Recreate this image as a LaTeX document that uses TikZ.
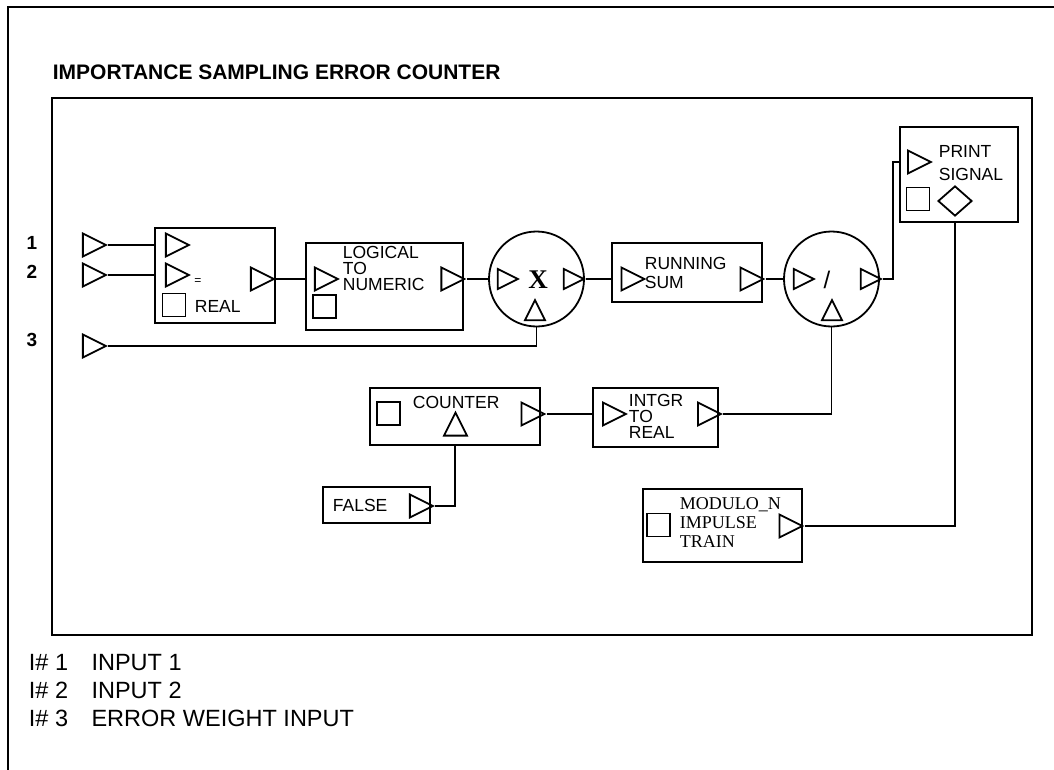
\documentclass[tikz,border=0pt]{standalone}
\usepackage{fontspec}
\setmainfont{Liberation Sans}
\newfontfamily\modserif{Liberation Serif}
\usetikzlibrary{shapes.geometric}
\newcommand{\blkfont}{\fontsize{17.5}{16}\selectfont}
\newcommand{\titlefont}{\fontsize{21}{21}\selectfont\bfseries}
\newcommand{\numfont}{\fontsize{19}{19}\selectfont\bfseries}
\newcommand{\legfont}{\fontsize{23.5}{23.5}\selectfont}
\newcommand{\modfont}{\modserif\fontsize{18}{19}\selectfont}
\newcommand{\opfont}{\modserif\fontsize{27}{27}\selectfont\bfseries}

\begin{document}
\begin{tikzpicture}[x=1pt, y=-1pt, line width=1.8pt,
    blk/.style={draw, rectangle, inner sep=0pt},
    port/.style={draw, isosceles triangle, isosceles triangle stretches,
      minimum width=23pt, minimum height=23pt, inner sep=0pt},
    uport/.style={port, shape border rotate=90},
    sport/.style={port, minimum width=20pt, minimum height=20pt},
    sq/.style={draw, rectangle, minimum size=23pt, inner sep=0pt},
    op/.style={draw, circle, minimum size=95pt, inner sep=0pt},
    lbl/.style={anchor=west, inner sep=0pt, align=left, font=\blkfont}]
  \useasboundingbox (0,0) rectangle (1054,770);

  % page frame and title
  \draw (8,770) -- (8,7) -- (1054,7);
  \node[anchor=west, inner sep=0pt, font=\titlefont] (title) at (52,72)
    {IMPORTANCE SAMPLING ERROR COUNTER};
  \node[blk, minimum width=980pt, minimum height=537pt] (frame) at (542,366.5) {};

  % inputs
  \node[font=\numfont] (n1) at (32,243) {1};
  \node[font=\numfont] (n2) at (32,272) {2};
  \node[font=\numfont] (n3) at (32,340) {3};
  \node[port] (in1) at (90,245) {};
  \node[port] (in2) at (90,275) {};
  \node[port] (in3) at (90,346) {};

  % compare
  \node[blk, minimum width=120pt, minimum height=95pt] (eq) at (215,275.5) {};
  \node[port] (eqa) at (173,245) {};
  \node[port] (eqb) at (173,275) {};
  \node[font=\fontsize{12}{12}\selectfont, inner sep=0pt] (eqsign) at (198,282) {=};
  \node[sq] (eqsq) at (174,305) {};
  \node[lbl] (eqtxt) at (194,306) {REAL};
  \node[port] (eqout) at (258,279) {};

  % logical to numeric
  \node[blk, minimum width=157pt, minimum height=87pt] (lgc) at (384.5,286.5) {};
  \node[port] (lgcin) at (322,279) {};
  \node[port] (lgcout) at (448.5,279) {};
  \node[lbl] (lgctxt) at (342,268) {LOGICAL\\TO\\NUMERIC};
  \node[sq] (lgcsq) at (324.5,306.5) {};

  % multiply
  \node[op] (mul) at (536.5,279) {};
  \node[sport] (mulin) at (504,279) {};
  \node[sport] (mulout) at (570,279) {};
  \node[sport, shape border rotate=90] (mulw) at (535,314) {};
  \node[font=\opfont, inner sep=0pt] (mulsym) at (538,280) {X};

  % running sum
  \node[blk, minimum width=150pt, minimum height=59pt] (rsum) at (687,272.5) {};
  \node[port] (rsumin) at (628.5,279) {};
  \node[port] (rsumout) at (747.5,279) {};
  \node[lbl] (rsumtxt) at (644,273) {RUNNING\\[3pt]SUM};

  % divide
  \node[op] (dv) at (831.5,279) {};
  \node[sport] (dvin) at (800,279) {};
  \node[sport] (dvout) at (867,279) {};
  \node[sport, shape border rotate=90] (dvw) at (832,314) {};
  \node[font=\fontsize{24}{24}\selectfont, inner sep=0pt] (dvsym) at (827,280) {/};

  % print
  \node[blk, minimum width=118pt, minimum height=95pt] (prt) at (959,174.5) {};
  \node[port] (prtin) at (915,162) {};
  \node[lbl] (prttxt) at (938,163.5) {PRINT\\[7pt]SIGNAL};
  \node[sq] (prtsq) at (918,199) {};
  \node[draw, diamond, minimum width=34pt, minimum height=30pt, inner sep=0pt]
    (prtdia) at (955,201) {};

  % counter
  \node[blk, minimum width=170pt, minimum height=57pt] (cnt) at (455,416.5) {};
  \node[sq] (cntsq) at (388.5,413.5) {};
  \node[lbl] (cnttxt) at (412,402) {COUNTER};
  \node[uport] (cntclk) at (455.5,428.5) {};
  \node[port] (cntout) at (528.5,414) {};

  % integer to real
  \node[blk, minimum width=125pt, minimum height=59pt] (itr) at (655.5,417.5) {};
  \node[port] (itrin) at (610,414) {};
  \node[port] (itrout) at (705,414) {};
  \node[lbl] (itrtxt) at (628,416) {INTGR\\TO\\REAL};

  % false
  \node[blk, minimum width=107pt, minimum height=36pt] (fls) at (376.5,505) {};
  \node[lbl] (flstxt) at (332,505) {FALSE};
  \node[port] (flsout) at (417,506) {};

  % impulse train
  \node[blk, minimum width=159pt, minimum height=73pt] (mod) at (722.5,525.5) {};
  \node[sq] (modsq) at (658.5,525) {};
  \node[lbl, font=\modfont] (modtxt) at (679,523) {MODULO\_N\\IMPULSE\\TRAIN};
  \node[port] (modout) at (786.5,526) {};

  % wires
  \draw (in1.apex) -- (in1.apex -| eq.west);
  \draw (in2.apex) -- (in2.apex -| eq.west);
  \draw (in3.apex) -| (mul.south);
  \draw (eqout.apex) -- (eqout.apex -| lgc.west);
  \draw (lgcout.apex) -- (mul.west);
  \draw (mulout.apex) -- (mulout.apex -| rsum.west);
  \draw (rsumout.apex) -- (dv.west);
  \draw (dvout.apex) -- ++(10,0) |- (prtin.west -| prt.west);
  \draw (cntout.apex) -- (cntout.apex -| itr.west);
  \draw (itrout.apex) -| (dv.south);
  \draw (flsout.apex) -| (cnt.south);
  \draw (modout.apex) -| (prtdia |- prt.south);

  % legend
  \node[anchor=west, inner sep=0pt, font=\legfont] (leg1) at (28,663) {I\# 1\quad INPUT 1};
  \node[anchor=west, inner sep=0pt, font=\legfont] (leg2) at (28,690) {I\# 2\quad INPUT 2};
  \node[anchor=west, inner sep=0pt, font=\legfont] (leg3) at (28,718) {I\# 3\quad ERROR WEIGHT INPUT};
\end{tikzpicture}
\end{document}
